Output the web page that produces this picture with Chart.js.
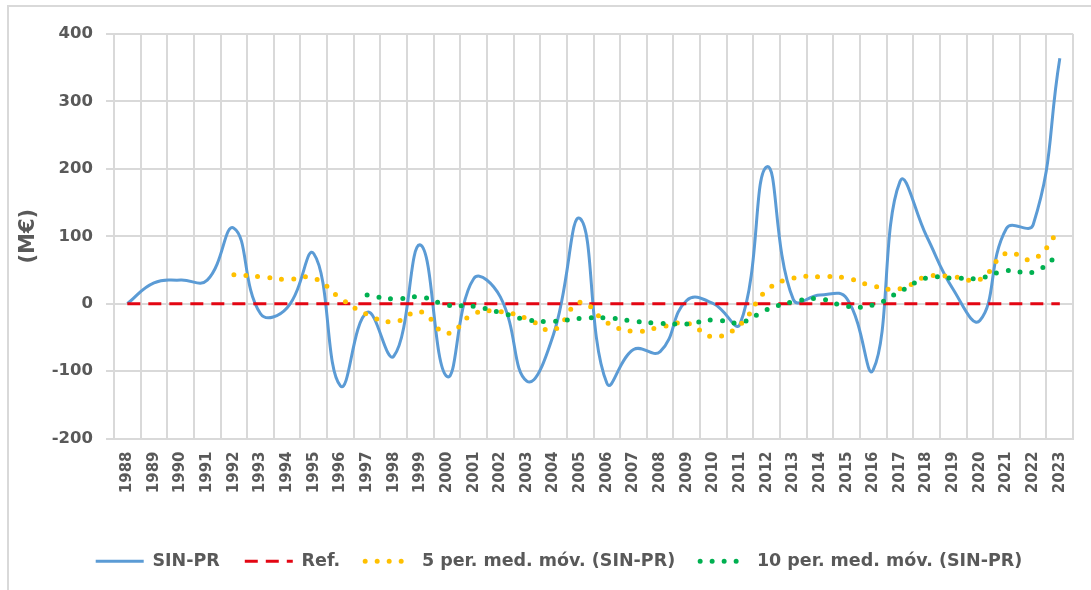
<!DOCTYPE html>
<html>
<head>
<meta charset="utf-8">
<script src="https://cdn.jsdelivr.net/npm/chart.js@4.4.1/dist/chart.umd.min.js"></script>
<style>
  html, body { margin: 0; padding: 0; background: #fff; }
  #wrap { width: 1091px; height: 590px; }
</style>
</head>
<body>
<div id="wrap"><canvas id="sinChart" width="1091" height="590"></canvas></div>
<script>
const years = ['1988', '1989', '1990', '1991', '1992', '1993', '1994', '1995', '1996', '1997',
  '1998', '1999', '2000', '2001', '2002', '2003', '2004', '2005', '2006', '2007', '2008', '2009',
  '2010', '2011', '2012', '2013', '2014', '2015', '2016', '2017', '2018', '2019', '2020', '2021',
  '2022', '2023'];

// SIN-PR (M€)
const sinPr = [0, 31, 35, 35, 112, -15, -6, 74, -122, -13,
  -78, 87, -108, 37, 10, -115, -45, 126, -118, -68, -71, 5,
  0, -30, 203, 6, 13, 8, -98, 181, 100, 21, -25, 112,
  117, 364];

// linha de referência
const refLine = [0, 0, 0, 0, 0, 0, 0, 0, 0, 0,
  0, 0, 0, 0, 0, 0, 0, 0, 0, 0, 0, 0,
  0, 0, 0, 0, 0, 0, 0, 0, 0, 0, 0, 0,
  0, 0];

// média móvel 5 períodos
const ma5 = [null, null, null, null, 43, 40, 36, 38, 8, -16,
  -27, -12, -44, -15, -12, -22, -39, 2, -28, -41, -35, -29,
  -49, -31, 20, 38, 40, 38, 26, 22, 40, 40, 36, 75,
  66, 110];

// média móvel 10 períodos
const ma10 = [null, null, null, null, null, null, null, null, null, 13,
  7, 10, -2, -4, -13, -24, -26, -22, -21, -26, -29, -30,
  -24, -28, -9, 3, 7, -4, -2, 18, 38, 38, 38, 49,
  47, 74];

const yTicks = [-200, -100, 0, 100, 200, 300, 400];

const txtColor = '#595959';
const gridColor = '#d9d9d9';
const fontFam = "'DejaVu Sans', Verdana, sans-serif";

// moldura cinzenta (só esquerda e topo ficam visíveis)
const framePlugin = {
  id: 'frame',
  beforeDraw(chart) {
    const c = chart.ctx;
    c.save();
    c.fillStyle = '#fff';
    c.fillRect(0, 0, chart.width, chart.height);
    c.strokeStyle = gridColor;
    c.lineWidth = 2;
    c.beginPath();
    c.moveTo(8, chart.height);
    c.lineTo(8, 6);
    c.lineTo(chart.width, 6);
    c.stroke();
    c.restore();
  },
  afterLayout(chart) {
    // legenda um pouco à direita, como no original
    chart.legend.left += 14;
    chart.legend.right += 14;
  }
};

const ctx = document.getElementById('sinChart').getContext('2d');
new Chart(ctx, {
  type: 'line',
  data: {
    labels: years,
    datasets: [
      {
        label: 'SIN-PR',
        data: sinPr,
        borderColor: '#5b9bd5',
        backgroundColor: '#5b9bd5',
        borderWidth: 3,
        tension: 0.45,
        pointRadius: 0,
        order: 4
      },
      {
        label: 'Ref.',
        data: refLine,
        borderColor: '#e30613',
        backgroundColor: '#e30613',
        borderWidth: 3,
        borderDash: [13, 8],
        pointRadius: 0,
        order: 3
      },
      {
        label: '5 per. med. móv. (SIN-PR)',
        data: ma5,
        borderColor: '#ffc000',
        backgroundColor: '#ffc000',
        borderWidth: 5,
        borderDash: [0, 12],
        borderCapStyle: 'round',
        tension: 0.45,
        pointRadius: 0,
        order: 2
      },
      {
        label: '10 per. med. móv. (SIN-PR)',
        data: ma10,
        borderColor: '#00b050',
        backgroundColor: '#00b050',
        borderWidth: 5,
        borderDash: [0, 12],
        borderCapStyle: 'round',
        tension: 0.45,
        pointRadius: 0,
        order: 1
      }
    ]
  },
  options: {
    responsive: false,
    animation: false,
    layout: {
      padding: { left: 12, top: 34, right: 13, bottom: 10 }
    },
    scales: {
      x: {
        offset: true,
        grid: {
          offset: true,
          color: gridColor,
          lineWidth: 2,
          drawTicks: false
        },
        border: { color: gridColor, width: 2 },
        ticks: {
          autoSkip: false,
          minRotation: 90,
          maxRotation: 90,
          padding: 13,
          color: txtColor,
          font: { family: fontFam, size: 15, weight: 'bold' }
        },
        afterFit: function (scale) {
          scale.height = 89;
        }
      },
      y: {
        min: -200,
        max: 400,
        afterBuildTicks: function (scale) {
          scale.ticks = yTicks.map(v => ({ value: v }));
        },
        grid: {
          color: gridColor,
          lineWidth: 2,
          tickLength: 8
        },
        border: { color: gridColor, width: 2 },
        ticks: {
          padding: 13,
          color: txtColor,
          font: { family: fontFam, size: 16.5, weight: 'bold' }
        },
        title: {
          display: true,
          text: '(M€)',
          color: txtColor,
          padding: { top: 4, bottom: 0 },
          font: { family: fontFam, size: 21, weight: 'bold' }
        },
        afterFit: function (scale) {
          scale.width = 114 - 12;
        }
      }
    },
    plugins: {
      legend: {
        display: true,
        position: 'bottom',
        labels: {
          usePointStyle: true,
          pointStyle: 'line',
          pointStyleWidth: 48,
          padding: 25,
          color: txtColor,
          font: { family: fontFam, size: 17.5, weight: 'bold' },
          // o traço da legenda segue o estilo da linha (tracejado / pontilhado)
          generateLabels: function (chart) {
            const items = Chart.defaults.plugins.legend.labels.generateLabels(chart);
            items.forEach(function (item) {
              const ds = chart.data.datasets[item.datasetIndex];
              item.lineDash = ds.borderDash || [];
              item.lineCap = ds.borderCapStyle || 'butt';
              item.lineWidth = ds.borderWidth;
              item.strokeStyle = ds.borderColor;
            });
            return items;
          },
          sort: function (a, b) {
            return a.datasetIndex - b.datasetIndex;
          }
        }
      },
      tooltip: { enabled: false }
    }
  },
  plugins: [framePlugin]
});
</script>
</body>
</html>
